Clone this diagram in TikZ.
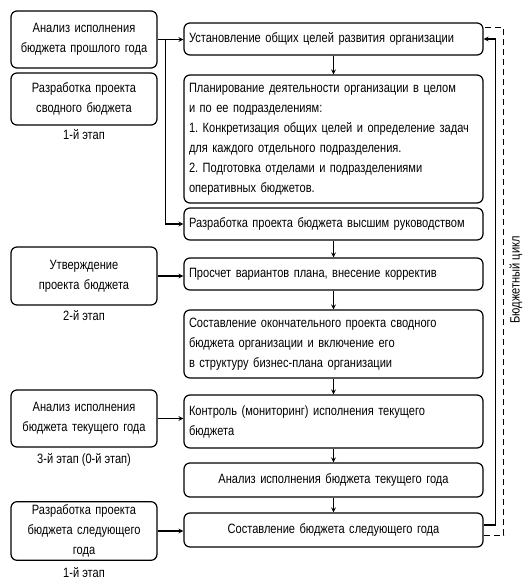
\documentclass[tikz,border=0pt]{standalone}
\usepackage{fontspec}
\setmainfont{Liberation Sans}[FakeStretch=0.82]
\usetikzlibrary{positioning}
\frenchspacing

\begin{document}
\begin{tikzpicture}[x=1pt,y=-1pt,>=stealth,line width=1.2pt,
  every node/.style={font=\fontsize{13.5}{20}\selectfont},
  lbox/.style={draw,rounded corners=6pt,align=center,text width=136pt,inner xsep=5pt,inner ysep=3pt},
  rbox/.style={draw,rounded corners=6pt,align=left,text width=289pt,inner xsep=5pt,inner ysep=3pt},
  stagelbl/.style={inner sep=1pt}]
\useasboundingbox (0,0) rectangle (530,584);
% left column
\node[lbox,minimum height=57pt] (anPrev) at (84,39.5) {Анализ исполнения\\бюджета прошлого года};
\node[lbox,minimum height=52pt] (devDraft) at (84,99) {Разработка проекта\\сводного бюджета};
\node[stagelbl] (st1) at (84,135) {1-й этап};
\node[lbox,minimum height=58pt] (approve) at (84,276) {Утверждение\\проекта бюджета};
\node[stagelbl] (st2) at (84,316) {2-й этап};
\node[lbox,minimum height=57pt] (anCur) at (84,418.5) {Анализ исполнения\\бюджета текущего года};
\node[stagelbl] (st3) at (84,460) {3-й этап (0-й этап)};
\node[lbox,minimum height=58pt] (devNext) at (84,531) {Разработка проекта\\бюджета следующего\\года};
\node[stagelbl] (st4) at (84,573) {1-й этап};
% right column
\node[rbox,minimum height=32pt] (goals) at (333.5,39) {Установление общих целей развития организации};
\node[rbox,minimum height=128pt] (plan) at (333.5,139) {Планирование деятельности организации в целом\\и по ее подразделениям:\\1. Конкретизация общих целей и определение задач\\для каждого отдельного подразделения.\\2. Подготовка отделами и подразделениями\\оперативных бюджетов.};
\node[rbox,minimum height=32pt] (topDraft) at (333.5,224) {Разработка проекта бюджета высшим руководством};
\node[rbox,minimum height=32pt] (calc) at (333.5,274) {Просчет вариантов плана, внесение корректив};
\node[rbox,minimum height=68pt] (final) at (333.5,344) {Составление окончательного проекта сводного\\бюджета организации и включение его\\в структуру бизнес-плана организации};
\node[rbox,minimum height=53pt] (monitor) at (333.5,421.5) {Контроль (мониторинг) исполнения текущего\\бюджета};
\node[rbox,align=center,minimum height=34pt] (anCurR) at (333.5,480) {Анализ исполнения бюджета текущего года};
\node[rbox,align=center,minimum height=34pt] (nextBud) at (333.5,530) {Составление бюджета следующего года};
\node[rotate=90] (cycle) at (516,280) {Бюджетный цикл};
% connectors
\draw[->] (anPrev.east) -- (anPrev.east -| goals.west);
\draw[->] (anPrev.east) ++(8,0) |- (topDraft.west);
\draw[->] (approve.east) -- (approve.east -| calc.west);
\draw[->] (anCur.east) -- (anCur.east -| monitor.west);
\draw[->] (devNext.east) -- (devNext.east -| nextBud.west);
\draw[->] (goals) -- (plan);
\draw[->] (topDraft) -- (calc);
\draw[->] (calc) -- (final);
\draw[->] (final) -- (monitor);
\draw[->] (monitor) -- (anCurR);
\draw[->] (anCurR) -- (nextBud);
\draw[->] ([yshift=5pt]nextBud.east) -- ++(12,0) |- (goals.east);
\draw[line width=1pt,dash pattern=on 6pt off 4pt] ([yshift=-5pt]nextBud.east) -- ++(20,0) |- ([yshift=-5pt]goals.north east);
\end{tikzpicture}
\end{document}
